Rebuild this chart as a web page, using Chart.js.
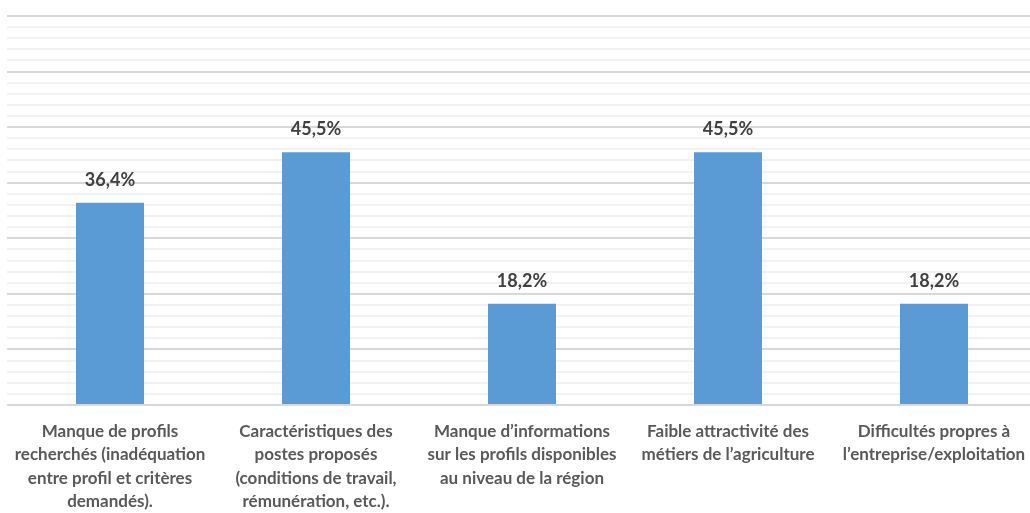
<!DOCTYPE html>
<html>
<head>
<meta charset="utf-8">
<script src="https://cdn.jsdelivr.net/npm/chart.js@4"></script>
<style>
  html, body { margin: 0; padding: 0; background: #fff; overflow: hidden; }
  #wrap { position: relative; width: 1037px; height: 513px; }
</style>
</head>
<body>
<div id="wrap"><canvas id="chart"></canvas></div>
<script>
const categories = [
  ["Manque de profils", "recherchés (inadéquation", "entre profil et critères", "demandés)."],
  ["Caractéristiques des", "postes proposés", "(conditions de travail,", "rémunération, etc.)."],
  ["Manque d’informations", "sur les profils disponibles", "au niveau de la région"],
  ["Faible attractivité des", "métiers de l’agriculture"],
  ["Difficultés propres à", "l’entreprise/exploitation"]
];
const shares = [36.4, 45.5, 18.2, 45.5, 18.2];
const FONT = "Lato, 'Open Sans', sans-serif";

const valueLabels = {
  id: "valueLabels",
  afterDatasetsDraw(chart) {
    const ctx = chart.ctx;
    const meta = chart.getDatasetMeta(0);
    ctx.save();
    ctx.font = "bold 18px " + FONT;
    ctx.fillStyle = "#404040";
    ctx.textAlign = "center";
    ctx.textBaseline = "middle";
    meta.data.forEach((bar, i) => {
      const txt = shares[i].toFixed(1).replace(".", ",") + "%";
      ctx.fillText(txt, bar.x, bar.y - 23);
    });
    ctx.restore();
  }
};

new Chart(document.getElementById("chart"), {
  type: "bar",
  data: {
    labels: categories,
    datasets: [{
      data: shares,
      backgroundColor: "#5b9bd5",
      categoryPercentage: 1,
      barPercentage: 0.33
    }]
  },
  options: {
    animation: false,
    responsive: true,
    maintainAspectRatio: false,
    layout: { padding: { left: 7, top: 16, right: 0, bottom: 0 } },
    scales: {
      x: {
        grid: { display: false },
        border: { display: false },
        afterFit: s => { s.height = 108; },
        ticks: {
          color: "#595959",
          padding: 7,
          maxRotation: 0,
          autoSkip: false,
          font: { family: FONT, size: 17, weight: "bold", lineHeight: 1.37 }
        }
      },
      y: {
        min: 0,
        max: 70,
        afterFit: s => { s.width = 0; },
        border: { display: false },
        ticks: { display: false, stepSize: 2 },
        grid: {
          drawTicks: false,
          lineWidth: 2,
          color: c => (c.tick.value % 10 === 0 ? "#d9d9d9" : "#f2f2f2")
        }
      }
    },
    plugins: {
      legend: { display: false },
      tooltip: { enabled: false }
    }
  },
  plugins: [valueLabels]
});
</script>
</body>
</html>
